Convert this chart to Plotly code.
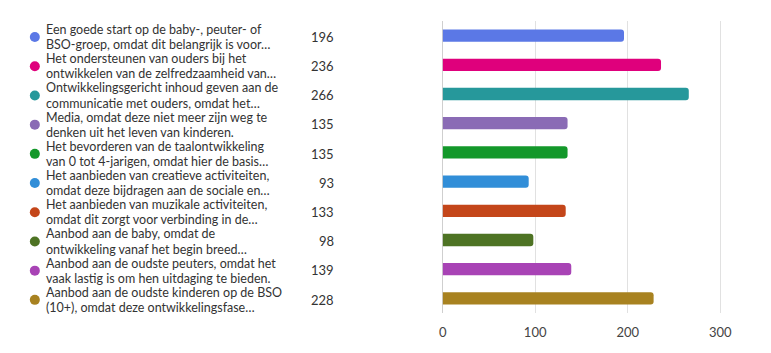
import plotly.graph_objects as go

labels = [
    ["Een goede start op de baby-, peuter- of", "BSO-groep, omdat dit belangrijk is voor…"],
    ["Het ondersteunen van ouders bij het", "ontwikkelen van de zelfredzaamheid van…"],
    ["Ontwikkelingsgericht inhoud geven aan de", "communicatie met ouders, omdat het…"],
    ["Media, omdat deze niet meer zijn weg te", "denken uit het leven van kinderen."],
    ["Het bevorderen van de taalontwikkeling", "van 0 tot 4-jarigen, omdat hier de basis…"],
    ["Het aanbieden van creatieve activiteiten,", "omdat deze bijdragen aan de sociale en…"],
    ["Het aanbieden van muzikale activiteiten,", "omdat dit zorgt voor verbinding in de…"],
    ["Aanbod aan de baby, omdat de", "ontwikkeling vanaf het begin breed…"],
    ["Aanbod aan de oudste peuters, omdat het", "vaak lastig is om hen uitdaging te bieden."],
    ["Aanbod aan de oudste kinderen op de BSO", "(10+), omdat deze ontwikkelingsfase…"],
]
values = [196, 236, 266, 135, 135, 93, 133, 98, 139, 228]
colors = ["#5B78E6", "#DF007C", "#26989B", "#8A6BB5", "#13982A",
          "#318ED8", "#C4461A", "#4E7324", "#A843B5", "#A88220"]
xticks = [0, 100, 200, 300]

idx = list(range(len(values)))
FONT = "Lato, Noto Sans, sans-serif"

fig = go.Figure()
fig.add_trace(go.Bar(
    x=values, y=idx, orientation="h",
    marker=dict(color=colors, line=dict(width=0)),
    width=0.42, hoverinfo="x", showlegend=False,
))
# legend dots
fig.add_trace(go.Scatter(
    x=[0] * len(idx), y=[i + 0.05 for i in idx], xaxis="x2", yaxis="y",
    mode="markers", marker=dict(color=colors, size=10),
    showlegend=False, hoverinfo="skip",
))

W = 748.0
for i, (lab, v) in enumerate(zip(labels, values)):
    for k, line in enumerate(lab):
        fig.add_annotation(x=41 / W, y=i + (-0.21 if k == 0 else 0.31),
                           xref="paper", yref="y", text=line,
                           showarrow=False, xanchor="left", yanchor="middle",
                           align="left", borderpad=0,
                           font=dict(size=12.5, color="#333", family=FONT))
    fig.add_annotation(x=333 / W, y=i + 0.04, xref="paper", yref="y", text=str(v),
                       showarrow=False, xanchor="right", yanchor="middle",
                       borderpad=0,
                       font=dict(size=13, color="#333", family=FONT))

fig.update_layout(
    width=771, height=353,
    margin=dict(l=0, r=23, t=21, b=40),
    paper_bgcolor="white", plot_bgcolor="white",
    barcornerradius=3,
    font=dict(family=FONT, size=12, color="#444"),
    xaxis=dict(domain=[441 / W, 1], range=[0, 330], tickvals=xticks,
               showgrid=True, gridcolor="#e1e1e1", gridwidth=1,
               zeroline=True, zerolinecolor="#cfcfcf", zerolinewidth=1,
               showline=False, ticks="outside", ticklen=7,
               tickcolor="rgba(0,0,0,0)",
               tickfont=dict(size=13, color="#444")),
    xaxis2=dict(domain=[0, 62 / W], range=[-1, 1], visible=False, anchor="y"),
    yaxis=dict(range=[9.5, -0.5], visible=False, showgrid=False, zeroline=False),
)

fig.write_html("out.html")
